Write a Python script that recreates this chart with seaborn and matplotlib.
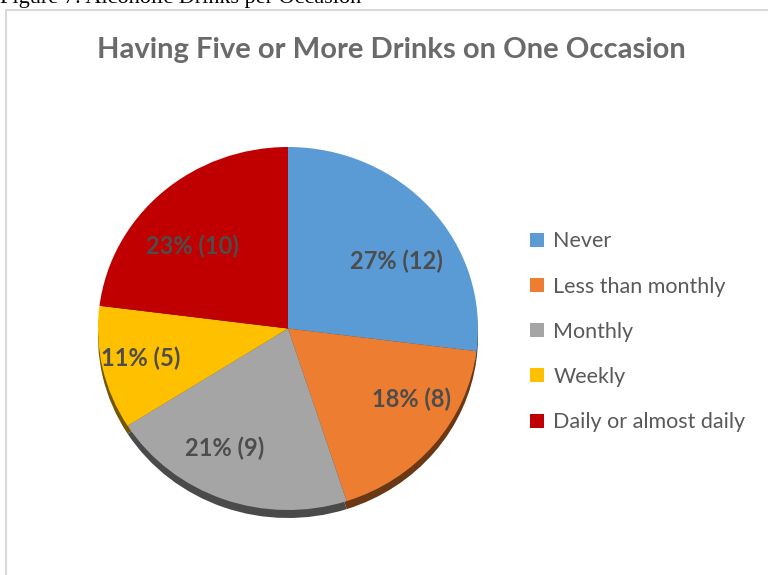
import matplotlib
matplotlib.use("Agg")
import matplotlib.pyplot as plt
import matplotlib.colors as mcolors
from matplotlib.patches import Rectangle
import seaborn as sns
import numpy as np

# Survey responses: frequency of having five or more drinks on one occasion
categories = ["Never", "Less than monthly", "Monthly", "Weekly", "Daily or almost daily"]
percents = [27, 18, 21, 11, 23]
counts = [12, 8, 9, 5, 10]

sns.set_theme(style="white")
plt.rcParams["font.family"] = ["Lato", "DejaVu Sans"]

palette = sns.color_palette(["#5B9BD5", "#ED7D31", "#A5A5A5", "#FFC000", "#C00000"])
shadow = [tuple(np.array(mcolors.to_rgb(c)) * 0.45) for c in palette]

W, H = 768, 575
fig = plt.figure(figsize=(W / 100, H / 100), dpi=100)
fig.patch.set_facecolor("white")

# Caption above the chart frame (partly cropped at the top edge)
fig.text(0.0, 1 - 3 / H, "Figure 7: Alcoholic Drinks per Occasion",
         family=["Liberation Serif"], fontsize=16, color="black",
         ha="left", va="baseline")

# Chart frame
fig.patches.append(Rectangle((6 / W, -0.1), 1.2, 1 - 10 / H + 0.1,
                             transform=fig.transFigure, fill=False,
                             edgecolor="#d9d9d9", lw=1.5))

fig.text(391 / W, 1 - 50 / H, "Having Five or More Drinks on One Occasion",
         fontsize=21, fontweight="bold", color="#6a6a6a", ha="center", va="center")

# Pie axes (slightly flattened ellipse with a drop shadow underneath)
ax = fig.add_axes([98 / W, 57 / H, 380 / W, 371 / H])

ax.pie(percents, colors=shadow, startangle=90, counterclock=False,
       center=(0, -0.044), radius=1.0, frame=True,
       wedgeprops=dict(linewidth=0))

wedges, _, autotexts = ax.pie(
    percents, colors=palette, startangle=90, counterclock=False,
    radius=1.0, frame=True,
    autopct=lambda p: "", pctdistance=0.72,
    wedgeprops=dict(linewidth=0))
ax.set_aspect("auto")
ax.set_xlim(-1, 1)
ax.set_ylim(-1.044, 1.0)
ax.axis("off")

# Data labels placed in the spirit of a "best fit" layout
label_polar = [(33, 0.68), (-31, 0.76), (-117, 0.74), (-168, 0.79), (138, 0.68)]
for t, pct, n, (ang, r) in zip(autotexts, percents, counts, label_polar):
    a = np.deg2rad(ang)
    t.set_position((r * np.cos(a), r * np.sin(a)))
    t.set_text(f"{pct}% ({n})")
    t.set_fontsize(17)
    t.set_fontweight("bold")
    t.set_color("#4d4d4d")
    t.set_ha("center")
    t.set_va("center")

leg = fig.legend(wedges, categories, loc="upper left",
                 bbox_to_anchor=(511 / W, 1 - 212 / H),
                 frameon=False, fontsize=15.5, labelcolor="#595959",
                 handlelength=0.62, handleheight=0.62, handletextpad=0.45,
                 labelspacing=1.17)

fig.savefig("out.png", dpi=100, facecolor="white")
